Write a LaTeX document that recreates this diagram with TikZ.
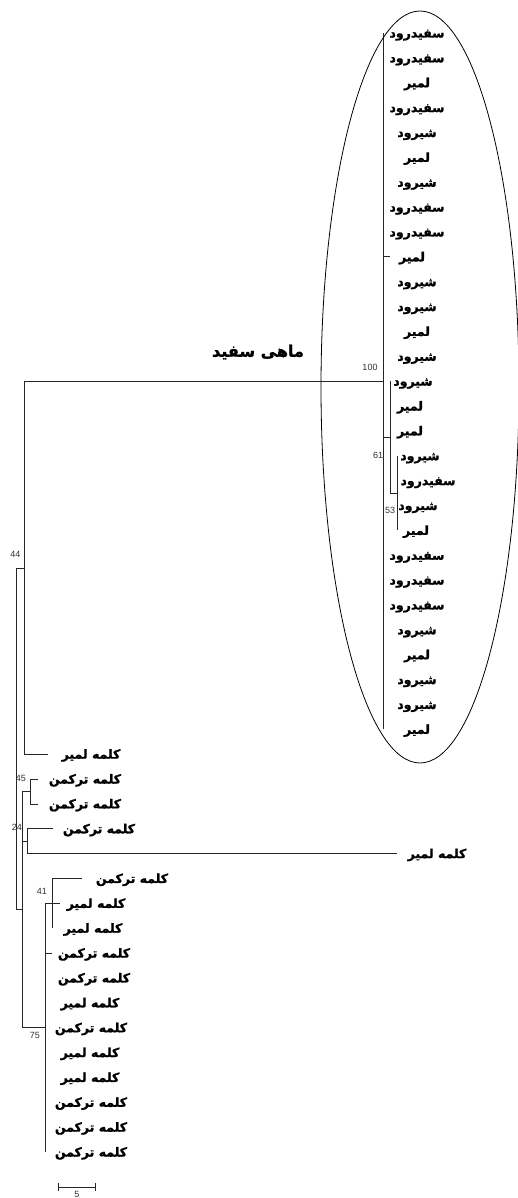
\documentclass[tikz,border=0pt]{standalone}
\usepackage{fontspec}
\usetikzlibrary{shapes.geometric}
\newfontfamily\arabicfont[Script=Arabic,FakeBold=1.3]{DejaVu Sans Bold}
\newfontfamily\numfont{Liberation Sans}
\TeXXeTstate=1
\def\SR{سفیدرود}
\def\SH{شیرود}
\def\LM{لمیر}
\def\KT{کلمه ترکمن}
\def\KL{کلمه لمیر}
\begin{document}
\begin{tikzpicture}[x=1pt,y=-1pt,
  br/.style={draw=black!85,line width=0.8pt},
  lab/.style={font=\arabicfont\fontsize{12.5}{14}\selectfont, anchor=base, inner sep=0pt},
  bs/.style={font=\numfont\fontsize{9}{10}\selectfont, inner sep=0pt, text=black!80}]
\useasboundingbox (0,0) rectangle (518,1198);
\fill[white] (0,0) rectangle (518,1198);
% leaf labels
\foreach \i/\w/\cx in {1/\SR/417,2/\SR/417,3/\LM/417,4/\SR/417,5/\SH/417,6/\LM/417,7/\SH/417,
  8/\SR/417,9/\SR/417,10/\LM/412,11/\SH/417,12/\SH/417,13/\LM/417,14/\SH/417,15/\SH/413,
  16/\LM/410,17/\LM/410,18/\SH/420,19/\SR/428,20/\SH/418,21/\LM/416,22/\SR/417,23/\SR/417,
  24/\SR/417,25/\SH/417,26/\LM/417,27/\SH/417,28/\SH/417,29/\LM/417,
  30/\KL/91,31/\KT/85,32/\KT/85,33/\KT/99,34/\KL/437,35/\KT/132,36/\KL/96,37/\KL/93,
  38/\KT/94,39/\KT/94,40/\KL/90,41/\KT/91,42/\KL/90,43/\KL/90,44/\KT/91,45/\KT/91,46/\KT/91}
{
  \pgfmathsetmacro\yy{33+(\i-1)*24.867+4.5}
  \node[lab] (l\i) at (\cx,\yy) {\beginR\w\endR};
}
% tree coordinates
\coordinate (rT) at (16,568);
\coordinate (rB) at (16,909.6);
\coordinate (n44) at (24,568);
\coordinate (n44T) at (24,381.1);
\coordinate (n44B) at (24,754.1);
\coordinate (n100) at (383,381.1);
\coordinate (n100T) at (383,33);
\coordinate (n100B) at (383,729.3);
\coordinate (t10a) at (383,256.8);
\coordinate (t10b) at (390,256.8);
\coordinate (n61a) at (383,437);
\coordinate (n61) at (390,437);
\coordinate (n61T) at (390,381.1);
\coordinate (n61B) at (390,493);
\coordinate (n53) at (397,493);
\coordinate (n53T) at (397,455.7);
\coordinate (n53B) at (397,530.3);
\coordinate (t30) at (48,754.1);
\coordinate (n22) at (22,909.6);
\coordinate (n22T) at (22,791.4);
\coordinate (n22B) at (22,1027.7);
\coordinate (n45) at (30,791.4);
\coordinate (n45T) at (30,779);
\coordinate (n45B) at (30,803.9);
\coordinate (t31) at (38,779);
\coordinate (t32) at (38,803.9);
\coordinate (n24a) at (22,841.2);
\coordinate (n24) at (27,841.2);
\coordinate (n24T) at (27,828.7);
\coordinate (n24B) at (27,853.6);
\coordinate (t33) at (53,828.7);
\coordinate (t34) at (397,853.6);
\coordinate (n75) at (45,1027.7);
\coordinate (n75T) at (45,903.3);
\coordinate (n75B) at (45,1152);
\coordinate (n41) at (52,903.3);
\coordinate (n41T) at (52,878.5);
\coordinate (n41B) at (52,928.2);
\coordinate (t35) at (82,878.5);
\coordinate (t36) at (60,903.3);
\coordinate (t38a) at (45,953.1);
\coordinate (t38) at (52,953.1);
% branches
\draw[br] (rT) -- (rB);
\draw[br] (rT) -- (n44);
\draw[br] (n44T) -- (n44B);
\draw[br] (n44T) -- (n100);
\draw[br] (n100T) -- (n100B);
\draw[br] (t10a) -- (t10b);
\draw[br] (n61a) -- (n61);
\draw[br] (n61T) -- (n61B);
\draw[br] (n61B) -- (n53);
\draw[br] (n53T) -- (n53B);
\draw[br] (n44B) -- (t30);
\draw[br] (rB) -- (n22);
\draw[br] (n22T) -- (n22B);
\draw[br] (n22T) -- (n45);
\draw[br] (n45T) -- (n45B);
\draw[br] (n45T) -- (t31);
\draw[br] (n45B) -- (t32);
\draw[br] (n24a) -- (n24);
\draw[br] (n24T) -- (n24B);
\draw[br] (n24T) -- (t33);
\draw[br] (n24B) -- (t34);
\draw[br] (n22B) -- (n75);
\draw[br] (n75T) -- (n75B);
\draw[br] (n75T) -- (n41);
\draw[br] (n41T) -- (n41B);
\draw[br] (n41T) -- (t35);
\draw[br] (n41) -- (t36);
\draw[br] (t38a) -- (t38);
% oval round the clade
\node[draw=black, line width=0.8pt, ellipse, minimum width=198pt, minimum height=752pt, inner sep=0pt] (clade) at (420,387) {};
% bootstrap values
\node[bs] (b100) at (370,367) {100};
\node[bs] (b61) at (378,455) {61};
\node[bs] (b53) at (390,510) {53};
\node[bs] (b44) at (15.5,554) {44};
\node[bs] (b45) at (21,778) {45};
\node[bs] (b24) at (17,827) {24};
\node[bs] (b41) at (42,891) {41};
\node[bs] (b75) at (35,1035) {75};
% title
\node[font=\arabicfont\fontsize{16}{18}\selectfont, inner sep=0pt] (title) at (258,352) {\beginR ماهی سفید\endR};
% scale bar
\coordinate (sL) at (58,1187);
\coordinate (sR) at (95,1187);
\coordinate (sL1) at (58,1183);
\coordinate (sL2) at (58,1191);
\coordinate (sR1) at (95,1183);
\coordinate (sR2) at (95,1191);
\draw[br] (sL) -- (sR);
\draw[br] (sL1) -- (sL2);
\draw[br] (sR1) -- (sR2);
\node[bs, anchor=north] (sc) at (77,1191) {5};
\end{tikzpicture}
\end{document}
